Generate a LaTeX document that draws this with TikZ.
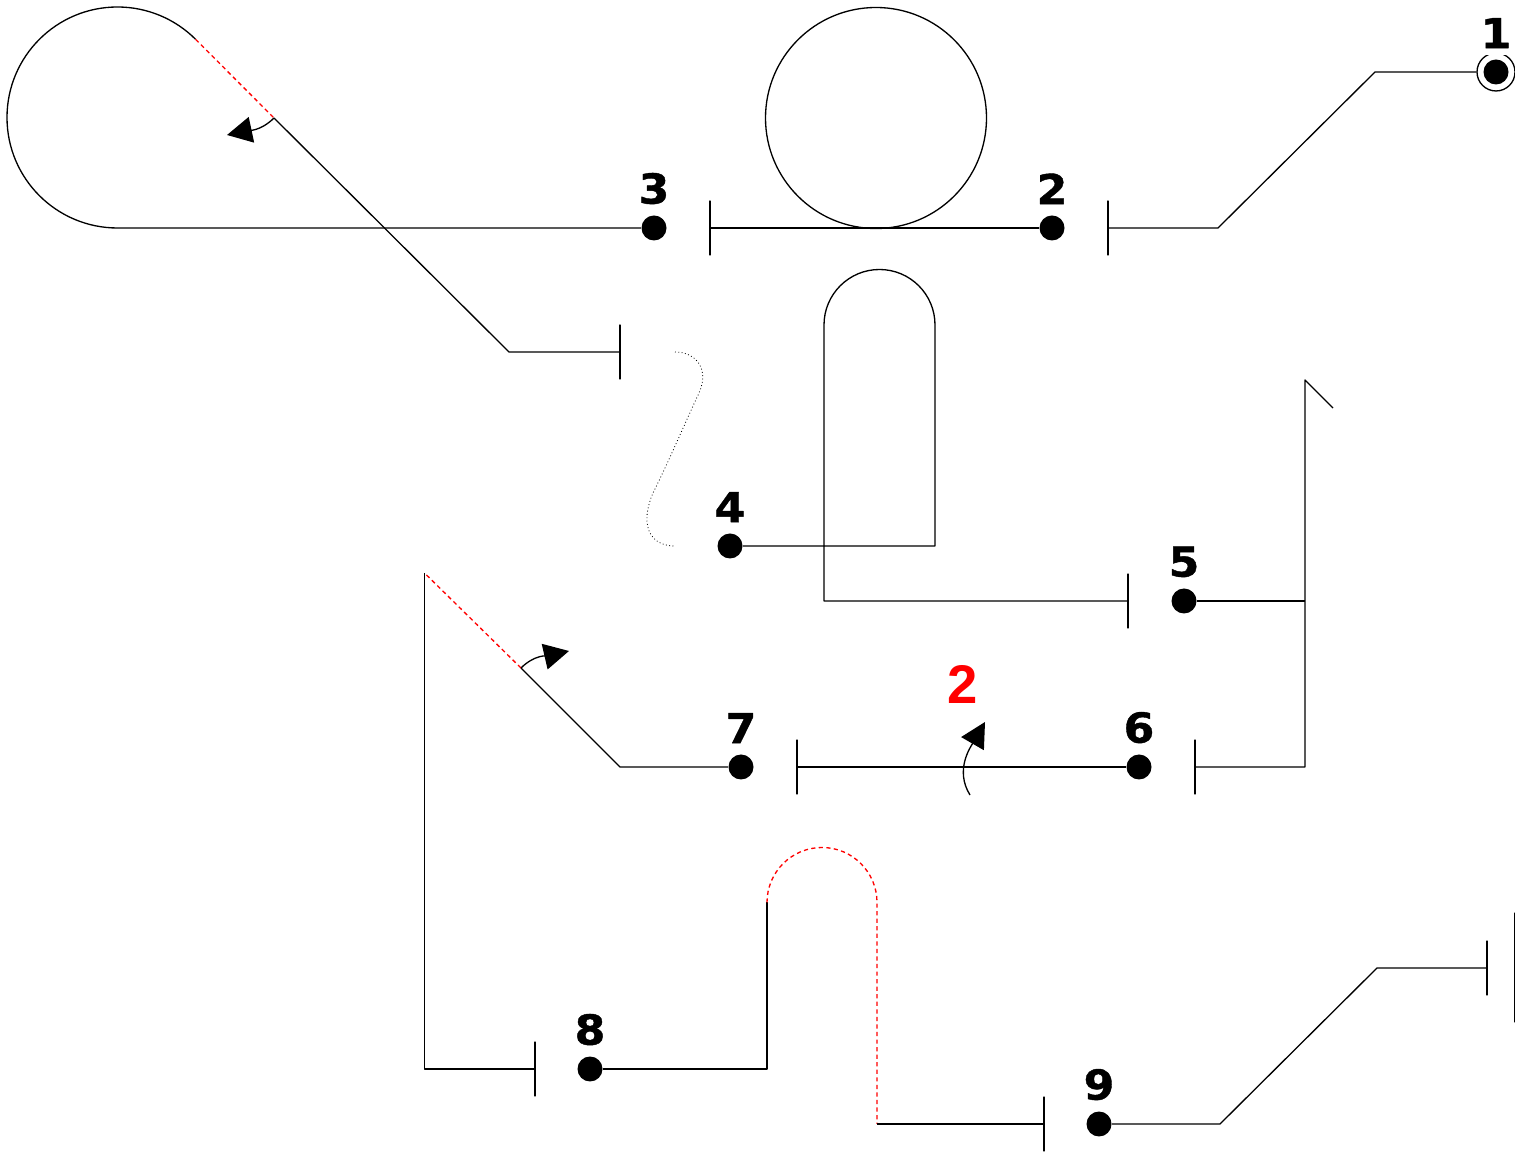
\documentclass[tikz,border=0pt]{standalone}
\usepackage{fontspec}
\usetikzlibrary{arrows.meta}
\newfontfamily\numfont[FakeBold=1,FakeStretch=1.07]{DejaVu Sans Bold}
\newfontfamily\markfont{Liberation Sans}
\begin{document}
\begin{tikzpicture}[x=.02cm,y=.02cm,line join=round,line width=.75pt,
		dot/.style={circle,fill=black,inner sep=0pt,minimum size=.5cm},
		bus/.style={draw,inner sep=0pt,minimum width=0pt,minimum height=1.08cm},
		num/.style={inner sep=0pt,font=\numfont\fontsize{23.5}{23.5}\selectfont},
		redline/.style={red,dash pattern=on 2.4pt off 1.9pt},
		turn/.style={-{Triangle[length=.5cm,width=.52cm]}}]
	\useasboundingbox (0,0) rectangle (1515,1153);
	% Thanh cai va diem
	\node[circle,draw,inner sep=0pt,minimum size=.76cm] (ring) at (1496,1081) {};
	\foreach \i/\x/\y in {2/1052/925,3/654/925,4/730/607,5/1184/552,6/1139/386,7/741/386,8/590/84,9/1099/29}
		\node[dot,label={[num,label distance=.2cm]above:\i}] (d\i) at (\x,\y) {};
	\node[dot,label={[num,fill=white,inner ysep=.14cm,label distance=.06cm]above:1}] (d1) at (1496,1081) {};
	\foreach \i/\x/\y in {b2/1108/925,b3/710/925,b4/620/801,b5/1128/552,b6/1195/386,b7/797/386,b8/535/84,b9/1044/29,b10/1487/185}
		\node[bus] (\i) at (\x,\y) {};
	\node[bus,minimum height=2.18cm] (b11) at (1515,185.5) {};
	% Diem gay
	\coordinate (k1) at (1375,1081); \coordinate (k2) at (1218,925);
	\coordinate (k3) at (117.5,925); \coordinate (k4) at (274,1035);
	\coordinate (k5) at (509,801); \coordinate (k6) at (935,607);
	\coordinate (k7) at (935,828); \coordinate (k8) at (824,552);
	\coordinate (k9) at (1305,552); \coordinate (k10) at (1305,773);
	\coordinate (k11) at (1333,745); \coordinate (k12) at (1305,386);
	\coordinate (k13) at (620,386); \coordinate (k14) at (521,485);
	\coordinate (k15) at (424.5,580); \coordinate (k16) at (424.5,84);
	\coordinate (k17) at (767,84); \coordinate (k18) at (767,250.5);
	\coordinate (k19) at (877,29); \coordinate (k20) at (1220,29);
	\coordinate (k21) at (1377,185);
	\coordinate (s1) at (675,801); \coordinate (s2) at (675,607);
	% Duong day
	\draw (ring) -- (k1) -- (k2) -- (b2);
	\draw (d2) -- (b3);
	\draw (876,1035) circle (110.5);
	\draw (d3) -- (k3) arc (-90:-315:110.5) coordinate (k3b);
	\draw[redline] (k3b) -- (k4);
	\draw (k4) -- (k5) -- (b4);
	\draw[dash pattern=on .5pt off 1.4pt,line width=.45pt] (s1) .. controls (695,801) and (710,785) .. (699,760) .. controls (685,730) and (668,690) .. (653,660) .. controls (640,630) and (648,607) .. (s2);
	\draw (d4) -- (k6) -- (k7) arc (0:180:55.5) -- (k8) -- (b5);
	\draw (d5) -- (k9);
	\draw (k11) -- (k10) -- (k12) -- (b6);
	\draw (d6) -- (b7);
	\draw (d7) -- (k13) -- (k14);
	\draw[redline] (k14) -- (k15);
	\draw (k15) -- (k16) -- (b8);
	\draw (d8) -- (k17) -- (k18);
	\draw[redline] (k18) arc (180:0:55) -- (k19);
	\draw (k19) -- (b9);
	\draw (d9) -- (k20) -- (k21) -- (b10);
	% Mui ten
	\coordinate (t1) at (227,1018); \coordinate (t2) at (569,502);
	\coordinate (t3a) at (970,358); \coordinate (t3) at (985,431);
	\draw[turn] (k4) to[out=-135,in=12] (t1);
	\draw[turn] (k14) to[out=45,in=-167] (t2);
	\draw[turn] (t3a) to[out=122,in=-120] (t3);
	\node[red,inner sep=0pt,font=\markfont\bfseries\fontsize{31}{31}\selectfont] (mark) at (963,469) {2};
\end{tikzpicture}
\end{document}
